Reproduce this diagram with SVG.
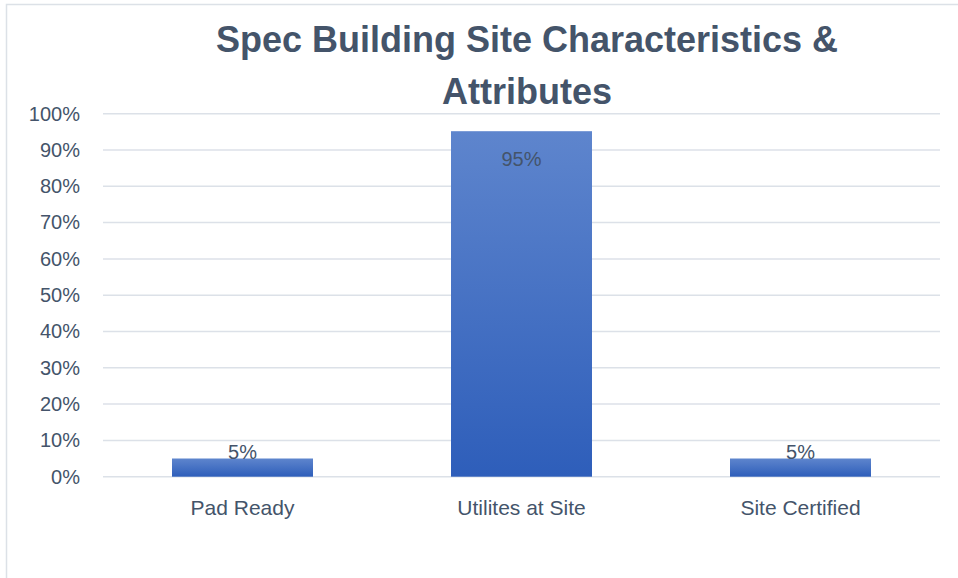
<svg xmlns="http://www.w3.org/2000/svg" width="958" height="578" viewBox="0 0 958 578">
  <style>
    .frame { stroke: #DCE1E7; stroke-width: 1.5; fill: none; }
    .grid { stroke: #DCE1E8; stroke-width: 1.5; }
    .title { font-family: "Liberation Sans", Arial, sans-serif; font-weight: bold; font-size: 36px; fill: #44546A; text-anchor: middle; }
    .axis { font-family: "Liberation Sans", Arial, sans-serif; font-size: 20px; fill: #44546A; text-anchor: end; }
    .cat { font-family: "Liberation Sans", Arial, sans-serif; font-size: 21px; fill: #44546A; text-anchor: middle; }
    .val { font-family: "Liberation Sans", Arial, sans-serif; font-size: 20px; fill: #44546A; text-anchor: middle; }
    .bar { fill: url(#barFill); }
  </style>
  <defs>
    <linearGradient id="barFill" x1="0" y1="0" x2="0" y2="1">
      <stop offset="0" stop-color="#5E85CD"/>
      <stop offset="1" stop-color="#2E5EBA"/>
    </linearGradient>
  </defs>

  <rect width="958" height="578" fill="#FFFFFF"/>
  <!-- chart area frame (top and left edges visible) -->
  <path class="frame" d="M6.5 578 V4.5 H958"/>

  <!-- title -->
  <g id="title">
    <text class="title" x="527" y="52">Spec Building Site Characteristics &amp;</text>
    <text class="title" x="527" y="104">Attributes</text>
  </g>

  <!-- gridlines, 10% steps -->
  <g id="gridlines">
    <line class="grid" x1="103" y1="113.7" x2="940" y2="113.7"/>
    <line class="grid" x1="103" y1="150" x2="940" y2="150"/>
    <line class="grid" x1="103" y1="186.3" x2="940" y2="186.3"/>
    <line class="grid" x1="103" y1="222.6" x2="940" y2="222.6"/>
    <line class="grid" x1="103" y1="258.9" x2="940" y2="258.9"/>
    <line class="grid" x1="103" y1="295.2" x2="940" y2="295.2"/>
    <line class="grid" x1="103" y1="331.5" x2="940" y2="331.5"/>
    <line class="grid" x1="103" y1="367.8" x2="940" y2="367.8"/>
    <line class="grid" x1="103" y1="404.1" x2="940" y2="404.1"/>
    <line class="grid" x1="103" y1="440.4" x2="940" y2="440.4"/>
    <line class="grid" x1="103" y1="476.7" x2="940" y2="476.7"/>
  </g>

  <!-- y axis labels -->
  <g id="y-axis">
    <text class="axis" x="80" y="120.5">100%</text>
    <text class="axis" x="80" y="156.8">90%</text>
    <text class="axis" x="80" y="193.1">80%</text>
    <text class="axis" x="80" y="229.4">70%</text>
    <text class="axis" x="80" y="265.7">60%</text>
    <text class="axis" x="80" y="302">50%</text>
    <text class="axis" x="80" y="338.3">40%</text>
    <text class="axis" x="80" y="374.6">30%</text>
    <text class="axis" x="80" y="410.9">20%</text>
    <text class="axis" x="80" y="447.2">10%</text>
    <text class="axis" x="80" y="483.5">0%</text>
  </g>

  <!-- bars -->
  <g id="bar-pad-ready">
    <rect class="bar" x="172" y="458.5" width="141" height="18.2"/>
    <text class="val" x="242.5" y="459">5%</text>
    <text class="cat" x="242.5" y="515">Pad Ready</text>
  </g>
  <g id="bar-utilities">
    <rect class="bar" x="451" y="131.2" width="141" height="345.5"/>
    <text class="val" x="521.5" y="166">95%</text>
    <text class="cat" x="521.5" y="515">Utilites at Site</text>
  </g>
  <g id="bar-site-certified">
    <rect class="bar" x="730" y="458.5" width="141" height="18.2"/>
    <text class="val" x="800.5" y="459">5%</text>
    <text class="cat" x="800.5" y="515">Site Certified</text>
  </g>
</svg>
